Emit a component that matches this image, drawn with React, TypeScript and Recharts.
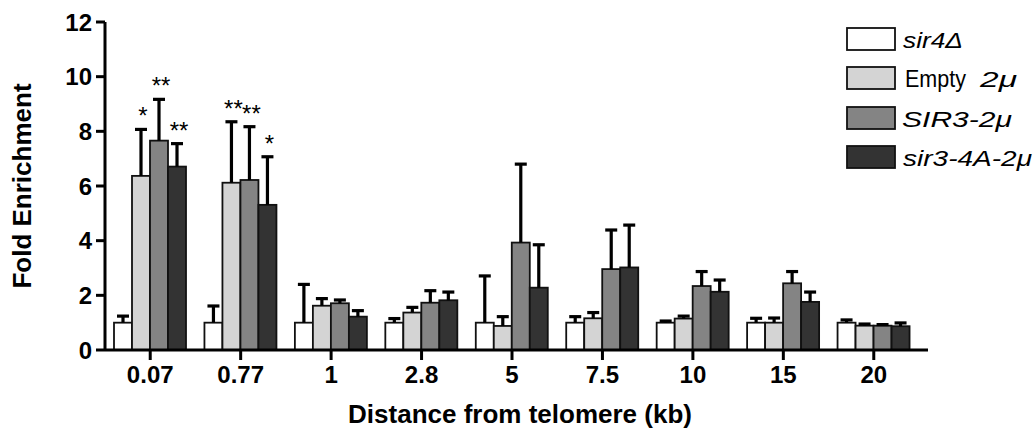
import React from "react";
import { BarChart, Bar, XAxis, YAxis, Label } from "recharts";

const categories = ["0.07", "0.77", "1", "2.8", "5", "7.5", "10", "15", "20"];

const sir4 = [1, 1, 1, 1, 1, 1, 1, 1, 1];
const sir4Err = [0.24, 0.61, 1.4, 0.15, 1.71, 0.22, 0.06, 0.16, 0.1];

const empty2u = [6.37, 6.12, 1.62, 1.37, 0.88, 1.16, 1.15, 1.0, 0.89];
const empty2uErr = [1.7, 2.23, 0.26, 0.19, 0.34, 0.21, 0.09, 0.17, 0.06];

const sir3 = [7.66, 6.22, 1.71, 1.73, 3.93, 2.96, 2.34, 2.44, 0.89];
const sir3Err = [1.51, 1.95, 0.12, 0.44, 2.87, 1.43, 0.53, 0.43, 0.04];

const sir34A = [6.71, 5.31, 1.22, 1.82, 2.28, 3.02, 2.13, 1.76, 0.87];
const sir34AErr = [0.84, 1.76, 0.22, 0.3, 1.57, 1.55, 0.43, 0.36, 0.12];

const empty2uSig = ["*", "**", "", "", "", "", "", "", ""];
const sir3Sig = ["**", "**", "", "", "", "", "", "", ""];
const sir34ASig = ["**", "*", "", "", "", "", "", "", ""];

const yTicks = [0, 2, 4, 6, 8, 10, 12];

const data = categories.map((c, i) => ({
  cat: c,
  sir4: sir4[i],
  sir4Err: sir4Err[i],
  sir4Sig: "",
  empty: empty2u[i],
  emptyErr: empty2uErr[i],
  emptySig: empty2uSig[i],
  sir3: sir3[i],
  sir3Err: sir3Err[i],
  sir3Sig: sir3Sig[i],
  a4: sir34A[i],
  a4Err: sir34AErr[i],
  a4Sig: sir34ASig[i],
}));

const FONT = "'Liberation Sans', Arial, sans-serif";

const series = [
  { key: "sir4", fill: "#ffffff" },
  { key: "empty", fill: "#d4d4d4" },
  { key: "sir3", fill: "#848484" },
  { key: "a4", fill: "#333333" },
];

// bar with an upper-only error bar and optional significance stars
function makeShape(key: string) {
  return (props: any) => {
    const { x, y, width, height, payload, fill } = props;
    const v = payload[key];
    const err = payload[key + "Err"];
    const sig = payload[key + "Sig"];
    const perUnit = v ? height / v : 0;
    const cx = x + width / 2;
    const topY = y - err * perUnit;
    return (
      <g>
        <rect x={x} y={y} width={width} height={height} fill={fill} stroke="#111" strokeWidth={1.8} />
        <line x1={cx} y1={y} x2={cx} y2={topY} stroke="#000" strokeWidth={3.2} />
        <line x1={cx - 6} y1={topY} x2={cx + 6} y2={topY} stroke="#000" strokeWidth={3.2} />
        {sig ? (
          <text x={cx + 2} y={topY - 5} textAnchor="middle" fontSize={24} fontFamily={FONT} fill="#000">
            {sig}
          </text>
        ) : null}
      </g>
    );
  };
}

function LegendBox() {
  const rows = [
    { fill: "#ffffff", parts: [{ t: "sir4Δ", italic: true, x: 63, len: 60, size: 22 }] },
    {
      fill: "#d4d4d4",
      parts: [
        { t: "Empty", italic: false, x: 65, len: 61, size: 23 },
        { t: "2μ", italic: true, x: 140, len: 37, size: 22 },
      ],
    },
    { fill: "#848484", parts: [{ t: "SIR3-2μ", italic: true, x: 62, len: 110, size: 22 }] },
    { fill: "#333333", parts: [{ t: "sir3-4A-2μ", italic: true, x: 63, len: 129, size: 22 }] },
  ];
  const rowY = [28, 67, 107, 146];
  return (
    <svg width={196} height={180} style={{ display: "block" }}>
      {rows.map((r, i) => (
        <g key={i}>
          <rect x={7} y={rowY[i]} width={48} height={22} fill={r.fill} stroke="#111" strokeWidth={1.8} />
          {r.parts.map((p, j) => (
            <text
              key={j}
              x={p.x}
              y={rowY[i] + 20}
              fontSize={p.size}
              fontStyle={p.italic ? "italic" : "normal"}
              fontFamily={FONT}
              textLength={p.len}
              lengthAdjust="spacingAndGlyphs"
              fill="#000"
            >
              {p.t}
            </text>
          ))}
        </g>
      ))}
    </svg>
  );
}

export default function App() {
  return (
    <div style={{ position: "absolute", left: 0, top: 0, width: 1036, height: 430, background: "#fff" }}>
      <BarChart
        width={1036}
        height={430}
        data={data}
        margin={{ top: 22, right: 108, bottom: 30, left: 55 }}
        barCategoryGap={9}
        barGap={0}
      >
        <XAxis
          dataKey="cat"
          height={50}
          padding={{ left: 0, right: 9 }}
          axisLine={{ stroke: "#000", strokeWidth: 3 }}
          tickLine={{ stroke: "#000", strokeWidth: 3 }}
          tickSize={10}
          tickMargin={6}
          tick={{ fontSize: 24, fontWeight: "bold", fill: "#000", fontFamily: FONT }}
        >
          <Label
            content={() => (
              <text x={520} y={423} textAnchor="middle" fontSize={26} fontWeight="bold" fontFamily={FONT} fill="#000">
                Distance from telomere (kb)
              </text>
            )}
          />
        </XAxis>
        <YAxis
          width={50}
          domain={[0, 12]}
          ticks={yTicks}
          interval={0}
          axisLine={{ stroke: "#000", strokeWidth: 3 }}
          tickLine={{ stroke: "#000", strokeWidth: 3 }}
          tickSize={9}
          tickMargin={4}
          tick={{ fontSize: 24, fontWeight: "bold", fill: "#000", fontFamily: FONT }}
        >
          <Label
            content={() => (
              <text
                x={31}
                y={186}
                transform="rotate(-90 31 186)"
                textAnchor="middle"
                fontSize={26}
                fontWeight="bold"
                fontFamily={FONT}
                fill="#000"
              >
                Fold Enrichment
              </text>
            )}
          />
        </YAxis>
        {series.map((s) => (
          <Bar
            key={s.key}
            dataKey={s.key}
            fill={s.fill}
            shape={makeShape(s.key)}
            isAnimationActive={false}
          />
        ))}
      </BarChart>
      <div style={{ position: "absolute", left: 840, top: 0 }}>
        <LegendBox />
      </div>
    </div>
  );
}
